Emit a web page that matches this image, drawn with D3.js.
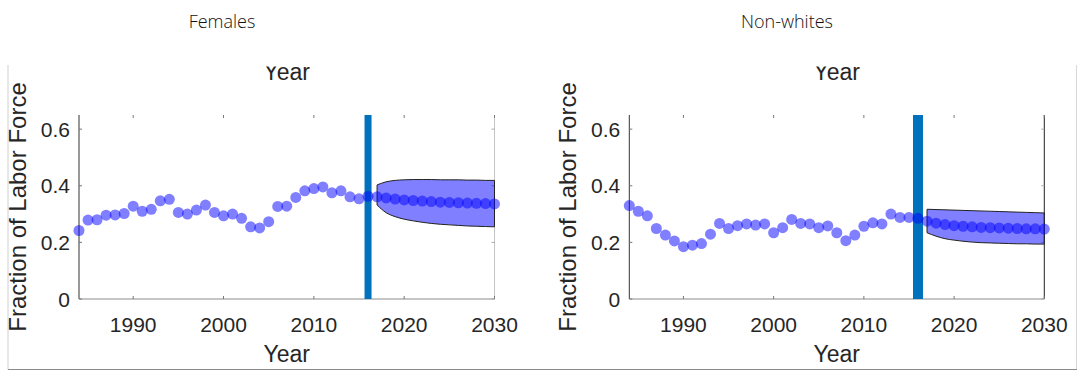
<!DOCTYPE html>
<html>
<head>
<meta charset="utf-8">
<script src="https://cdn.jsdelivr.net/npm/d3@7"></script>
<style>
  body { margin: 0; background: #fff; }
  svg { display: block; }
</style>
</head>
<body>
<svg id="chart" width="1078" height="371"></svg>
<script>
// years of observed data and of the forecast
const histYears = [1984, 1985, 1986, 1987, 1988, 1989, 1990, 1991, 1992, 1993, 1994,
  1995, 1996, 1997, 1998, 1999, 2000, 2001, 2002, 2003, 2004, 2005, 2006, 2007, 2008,
  2009, 2010, 2011, 2012, 2013, 2014, 2015, 2016];
const forecastYears = [2017, 2018, 2019, 2020, 2021, 2022, 2023, 2024, 2025, 2026,
  2027, 2028, 2029, 2030];
const cutoffYear = 2016;

const xTicks = [1990, 2000, 2010, 2020, 2030];
const yTicks = [0, 0.2, 0.4, 0.6];

// Females
const femalesHist = [0.242, 0.279, 0.280, 0.296, 0.297, 0.302, 0.328, 0.310, 0.317, 0.347,
  0.352, 0.306, 0.300, 0.314, 0.332, 0.306, 0.294, 0.300, 0.285, 0.255, 0.251, 0.273,
  0.327, 0.328, 0.359, 0.382, 0.390, 0.396, 0.375, 0.382, 0.361, 0.354, 0.363];
const femalesForecast = [0.361, 0.357, 0.353, 0.350, 0.348, 0.346, 0.344, 0.342, 0.341,
  0.340, 0.339, 0.338, 0.337, 0.336];
const femalesUpper = [0.403, 0.414, 0.419, 0.421, 0.422, 0.422, 0.422, 0.421, 0.421,
  0.421, 0.420, 0.420, 0.419, 0.419];
const femalesLower = [0.332, 0.305, 0.291, 0.282, 0.276, 0.271, 0.267, 0.264, 0.262,
  0.260, 0.258, 0.257, 0.256, 0.255];

// Non-whites
const nonwhitesHist = [0.330, 0.310, 0.294, 0.249, 0.226, 0.205, 0.185, 0.190, 0.196,
  0.229, 0.267, 0.249, 0.259, 0.265, 0.261, 0.265, 0.234, 0.252, 0.281, 0.267, 0.265,
  0.252, 0.258, 0.234, 0.206, 0.226, 0.257, 0.269, 0.265, 0.300, 0.288, 0.288, 0.285];
const nonwhitesForecast = [0.275, 0.268, 0.263, 0.259, 0.257, 0.255, 0.253, 0.252, 0.251,
  0.250, 0.249, 0.248, 0.248, 0.247];
const nonwhitesUpper = [0.317, 0.316, 0.315, 0.314, 0.313, 0.312, 0.311, 0.310, 0.309,
  0.308, 0.307, 0.306, 0.305, 0.304];
const nonwhitesLower = [0.234, 0.222, 0.213, 0.208, 0.204, 0.201, 0.199, 0.198, 0.197,
  0.196, 0.195, 0.195, 0.194, 0.194];

const panels = [
  { title: 'Females', hist: femalesHist, fc: femalesForecast, up: femalesUpper, lo: femalesLower,
    left: 79, right: 494.5, titleX: 222, lineW: 7, rightColor: '#c4c4c4' },
  { title: 'Non-whites', hist: nonwhitesHist, fc: nonwhitesForecast, up: nonwhitesUpper, lo: nonwhitesLower,
    left: 629.3, right: 1044.3, titleX: 787, lineW: 10, rightColor: '#222' }
];

const svg = d3.select('#chart');
const yTop = 115, yBottom = 299;
const dotColor = 'rgba(0,0,255,0.5)';
const axisFont = 'Liberation Sans, Arial, Helvetica, sans-serif';

// outer frame of the pasted figure
svg.append('line').attr('x1', 8).attr('x2', 8).attr('y1', 65).attr('y2', 369.5)
  .attr('stroke', '#cfcfcf').attr('stroke-width', 1);
svg.append('line').attr('x1', 1076.5).attr('x2', 1076.5).attr('y1', 65).attr('y2', 369.5)
  .attr('stroke', '#d8d8d8').attr('stroke-width', 1);
svg.append('line').attr('x1', 8).attr('x2', 1077).attr('y1', 369.5).attr('y2', 369.5)
  .attr('stroke', '#8a8a8a').attr('stroke-width', 1.2);

svg.append('clipPath').attr('id', 'frameClip')
  .append('rect').attr('x', 0).attr('y', 66.5).attr('width', 1078).attr('height', 305);

panels.forEach(p => {
  const x = d3.scaleLinear().domain([1984, 2030]).range([p.left, p.right]);
  const y = d3.scaleLinear().domain([0, 0.65]).range([yBottom, yTop]);
  const g = svg.append('g');
  const cx = (p.left + p.right) / 2;

  // panel title
  svg.append('text')
    .attr('x', p.titleX).attr('y', 28)
    .attr('text-anchor', 'middle')
    .style('font-family', '"Open Sans", Lato, sans-serif')
    .style('font-weight', 300)
    .style('font-size', '18px')
    .attr('fill', '#111')
    .text(p.title);

  // clipped x label from the figure above
  svg.append('text')
    .attr('clip-path', 'url(#frameClip)')
    .attr('x', cx).attr('y', 80)
    .attr('text-anchor', 'middle')
    .style('font-family', axisFont).style('font-size', '23px')
    .attr('fill', '#262626')
    .text('Year');

  // axes lines
  g.append('line').attr('x1', p.left).attr('x2', p.left).attr('y1', yTop).attr('y2', yBottom)
    .attr('stroke', '#333').attr('stroke-width', 1);
  g.append('line').attr('x1', p.left).attr('x2', p.right).attr('y1', yBottom).attr('y2', yBottom)
    .attr('stroke', '#8c8c8c').attr('stroke-width', 1);
  g.append('line').attr('x1', p.right).attr('x2', p.right).attr('y1', yTop).attr('y2', yBottom)
    .attr('stroke', p.rightColor).attr('stroke-width', 1);

  // ticks (inward), bottom and top
  xTicks.forEach(t => {
    g.append('line').attr('x1', x(t)).attr('x2', x(t)).attr('y1', yBottom).attr('y2', yBottom - 3)
      .attr('stroke', '#777');
    g.append('line').attr('x1', x(t)).attr('x2', x(t)).attr('y1', yTop).attr('y2', yTop + 3)
      .attr('stroke', '#777');
    g.append('text').attr('x', x(t)).attr('y', 331.5)
      .attr('text-anchor', 'middle')
      .style('font-family', axisFont).style('font-size', '21px')
      .attr('fill', '#262626').text(t);
  });
  yTicks.forEach(t => {
    g.append('line').attr('x1', p.left).attr('x2', p.left + 3).attr('y1', y(t)).attr('y2', y(t))
      .attr('stroke', '#777');
    g.append('line').attr('x1', p.right).attr('x2', p.right - 3).attr('y1', y(t)).attr('y2', y(t))
      .attr('stroke', '#aaa');
    g.append('text').attr('x', p.left - 9).attr('y', y(t) + 7.5)
      .attr('text-anchor', 'end')
      .style('font-family', axisFont).style('font-size', '21px')
      .attr('fill', '#262626').text(t === 0 ? '0' : t.toFixed(1));
  });

  // axis labels
  g.append('text').attr('x', cx).attr('y', 362)
    .attr('text-anchor', 'middle')
    .style('font-family', axisFont).style('font-size', '23px')
    .attr('fill', '#262626').text('Year');
  g.append('text')
    .attr('transform', `translate(${p.left - 53},${(yTop + yBottom) / 2}) rotate(-90)`)
    .attr('text-anchor', 'middle')
    .style('font-family', axisFont).style('font-size', '24px')
    .attr('fill', '#262626').text('Fraction of Labor Force');

  // cutoff line
  g.append('line').attr('x1', x(cutoffYear)).attr('x2', x(cutoffYear))
    .attr('y1', yTop).attr('y2', yBottom)
    .attr('stroke', '#0072BD').attr('stroke-width', p.lineW);

  // forecast band
  const band = forecastYears.map((yr, i) => ({ yr: yr, up: p.up[i], lo: p.lo[i] }));
  const area = d3.area().x(d => x(d.yr)).y0(d => y(d.lo)).y1(d => y(d.up))
    .curve(d3.curveMonotoneX);
  g.append('path').datum(band).attr('d', area)
    .attr('fill', 'rgba(0,0,255,0.5)')
    .attr('stroke', '#222').attr('stroke-width', 1);

  // dots
  const pts = histYears.map((yr, i) => ({ yr: yr, v: p.hist[i] }))
    .concat(forecastYears.map((yr, i) => ({ yr: yr, v: p.fc[i] })));
  g.selectAll('circle.dot').data(pts).enter().append('circle')
    .attr('class', 'dot')
    .attr('cx', d => x(d.yr)).attr('cy', d => y(d.v)).attr('r', 5.5)
    .attr('fill', dotColor);
});
</script>
</body>
</html>
